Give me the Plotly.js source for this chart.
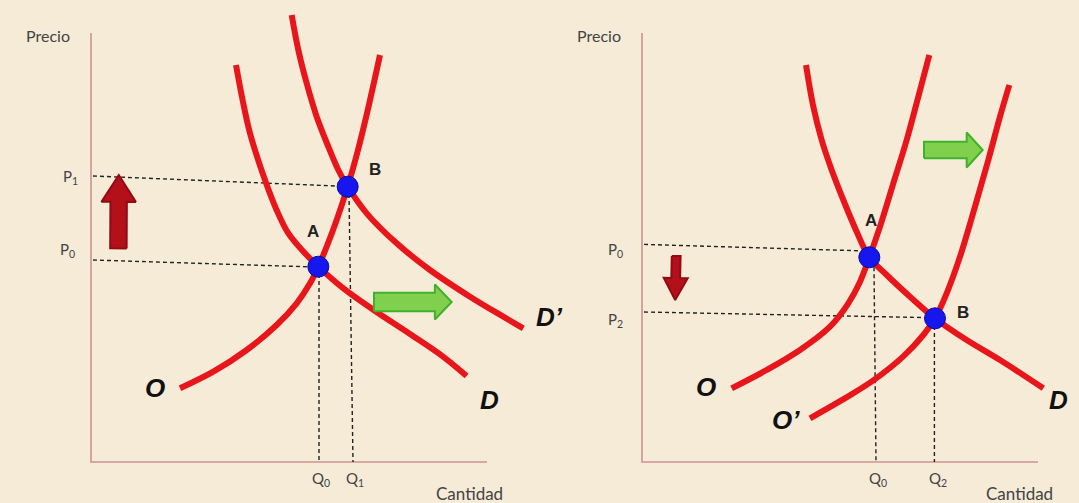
<!DOCTYPE html>
<html>
<head>
<meta charset="utf-8">
<script src="https://cdn.plot.ly/plotly-3.0.1.min.js"></script>
<style>body{margin:0;background:#F5EBD7}</style>
</head>
<body>
<div id="plot" style="width:1079px;height:503px"></div>
<script>
// left panel: demand shifts right (D -> D')
var oLeftQ = [2.225, 3.058, 3.892, 4.642, 5.142, 5.475, 5.683, 5.892, 6.142, 6.417, 6.675, 6.9, 7.088, 7.225];
var oLeftP = [1.843, 2.258, 2.8, 3.425, 3.967, 4.467, 4.883, 5.383, 6.05, 6.883, 7.8, 8.718, 9.55, 10.175];
var dLeftQ = [3.625, 3.79, 3.975, 4.35, 4.64, 4.93, 5.31, 5.683, 6.31, 7.14, 7.975, 8.81, 9.39];
var dLeftP = [9.925, 9.05, 8.22, 7.05, 6.3, 5.72, 5.26, 4.883, 4.34, 3.75, 3.2, 2.63, 2.15];
var d2LeftQ = [5.017, 5.183, 5.392, 5.642, 5.933, 6.183, 6.417, 6.892, 7.642, 8.475, 9.475, 10.308, 10.808];
var d2LeftP = [11.175, 10.3, 9.467, 8.633, 7.883, 7.3, 6.883, 6.217, 5.467, 4.8, 4.133, 3.633, 3.342];
var eqLeftQ = [5.683, 6.417];   // A, B
var eqLeftP = [4.883, 6.883];

// right panel: supply shifts right (O -> O')
var oRightQ = [2.242, 3.117, 3.95, 4.7, 5.158, 5.433, 5.683, 5.95, 6.283, 6.617, 6.908, 7.183];
var oRightP = [1.842, 2.3, 2.8, 3.383, 3.967, 4.467, 5.117, 5.883, 6.967, 8.05, 9.133, 10.175];
var o2RightQ = [4.2, 4.95, 5.783, 6.533, 7.033, 7.325, 7.617, 7.95, 8.325, 8.658, 8.95, 9.183];
var o2RightP = [1.092, 1.52, 2.04, 2.64, 3.175, 3.592, 4.217, 5.133, 6.383, 7.55, 8.633, 9.425];
var dRightQ = [4.1, 4.283, 4.492, 4.742, 5.033, 5.367, 5.683, 6.117, 6.7, 7.325, 8.117, 8.95, 10.033];
var dRightP = [9.925, 8.883, 8.05, 7.3, 6.55, 5.758, 5.117, 4.675, 4.133, 3.592, 3.05, 2.55, 1.842];
var eqRightQ = [5.683, 7.325];  // A, B
var eqRightP = [5.117, 3.592];

// guide lines (price level at the axis, then at the point)
var guideLeft = [
  {q: [0.05, 6.14], p: [7.15, 6.9]},
  {q: [0.05, 5.43], p: [5.05, 4.88]},
  {q: [5.7, 5.7], p: [4.7, 0]},
  {q: [6.45, 6.55], p: [6.7, 0]}
];
var guideRight = [
  {q: [0.05, 5.45], p: [5.44, 5.28]},
  {q: [0.05, 7.1], p: [3.75, 3.61]},
  {q: [5.8, 5.85], p: [4.87, 0]},
  {q: [7.31, 7.31], p: [3.4, 0]}
];

var axisQ = [0, 0, 9.9];
var axisP = [10.725, 0, 0];

var red = '#E8161B';
var traces = [];

function addLine(q, p, xa, ya, style) {
  traces.push({x: q, y: p, xaxis: xa, yaxis: ya, mode: 'lines', type: 'scatter',
    line: style, hoverinfo: 'skip', showlegend: false});
}

function blockArrow(tail, tip, shaftW, headW, headL) {
  var dx = tip[0] - tail[0], dy = tip[1] - tail[1];
  var len = Math.sqrt(dx * dx + dy * dy);
  var ux = dx / len, uy = dy / len, nx = -uy, ny = ux;
  var bx = tip[0] - ux * headL, by = tip[1] - uy * headL;
  var pts = [
    [tail[0], tail[1], -shaftW / 2], [bx, by, -shaftW / 2], [bx, by, -headW / 2],
    [tip[0], tip[1], 0], [bx, by, headW / 2], [bx, by, shaftW / 2], [tail[0], tail[1], shaftW / 2]
  ];
  var xs = pts.map(function (a) { return a[0] + nx * a[2]; });
  var ys = pts.map(function (a) { return a[1] + ny * a[2]; });
  xs.push(xs[0]); ys.push(ys[0]);
  return {x: xs, y: ys};
}

function addArrow(a, xa, ya, fill, edge) {
  traces.push({x: a.x, y: a.y, xaxis: xa, yaxis: ya, mode: 'lines', fill: 'toself',
    fillcolor: fill, line: {color: edge, width: 2}, hoverinfo: 'skip', showlegend: false});
}

function addDots(q, p, xa, ya) {
  traces.push({x: q, y: p, xaxis: xa, yaxis: ya, mode: 'markers', type: 'scatter',
    marker: {size: 21, color: '#1616EE', line: {color: '#0B0B99', width: 1}},
    hoverinfo: 'skip', showlegend: false});
}

var axisStyle = {color: '#D09292', width: 1.6};
var dashStyle = {color: '#222222', width: 1.4, dash: '4px,3px'};
var curveStyle = {color: red, width: 6, shape: 'spline', smoothing: 1};

// left
addLine(axisQ, axisP, 'x', 'y', axisStyle);
guideLeft.forEach(function (g) { addLine(g.q, g.p, 'x', 'y', dashStyle); });
addLine(oLeftQ, oLeftP, 'x', 'y', curveStyle);
addLine(dLeftQ, dLeftP, 'x', 'y', curveStyle);
addLine(d2LeftQ, d2LeftP, 'x', 'y', curveStyle);
addArrow(blockArrow([0.685, 5.34], [0.695, 7.175], 0.41, 0.86, 0.67), 'x', 'y', '#B3101A', '#920B12');
addArrow(blockArrow([7.075, 4.0], [9.017, 4.0], 0.46, 0.875, 0.42), 'x', 'y', '#80CF4D', '#3FB22C');
addDots(eqLeftQ, eqLeftP, 'x', 'y');

// right
addLine(axisQ, axisP, 'x2', 'y2', axisStyle);
guideRight.forEach(function (g) { addLine(g.q, g.p, 'x2', 'y2', dashStyle); });
addLine(oRightQ, oRightP, 'x2', 'y2', curveStyle);
addLine(o2RightQ, o2RightP, 'x2', 'y2', curveStyle);
addLine(dRightQ, dRightP, 'x2', 'y2', curveStyle);
addArrow(blockArrow([0.855, 5.15], [0.83, 4.05], 0.22, 0.6, 0.55), 'x2', 'y2', '#B3101A', '#920B12');
addArrow(blockArrow([7.05, 7.8], [8.517, 7.8], 0.415, 0.875, 0.4), 'x2', 'y2', '#80CF4D', '#3FB22C');
addDots(eqRightQ, eqRightP, 'x2', 'y2');

var fam = 'Lato, "Open Sans", sans-serif';
var axLab = {family: fam, size: 16, color: '#444444'};
var axLabWide = {family: fam, size: 17, color: '#444444'};
var small = {family: fam, size: 15, color: '#444444'};
var point = {family: '"Liberation Sans", Arial, sans-serif', size: 17, color: '#222222', weight: 'bold'};
var curveLab = {family: '"Liberation Sans", Arial, sans-serif', size: 26, color: '#111111', weight: 'bold', style: 'italic'};

function lab(text, x, y, xr, yr, font) {
  return {text: text, x: x, y: y, xref: xr, yref: yr, showarrow: false,
    xanchor: 'center', yanchor: 'middle', font: font};
}

var annotations = [
  lab('Precio', -1.075, 10.675, 'x', 'y', axLab),
  lab('Cantidad', 9.45, -0.775, 'x', 'y', axLabWide),
  lab('P<sub>1</sub>', -0.525, 7.125, 'x', 'y', small),
  lab('P<sub>0</sub>', -0.6, 5.3, 'x', 'y', small),
  lab('Q<sub>0</sub>', 5.75, -0.425, 'x', 'y', small),
  lab('Q<sub>1</sub>', 6.6, -0.425, 'x', 'y', small),
  lab('A', 5.55, 5.775, 'x', 'y', point),
  lab('B', 7.1, 7.325, 'x', 'y', point),
  lab('O', 1.6, 1.85, 'x', 'y', curveLab),
  lab('D', 9.95, 1.55, 'x', 'y', curveLab),
  lab('D’', 549 / 1079, 1 - 317 / 503, 'paper', 'paper', curveLab),

  lab('Precio', -1.075, 10.675, 'x2', 'y2', axLab),
  lab('Cantidad', 9.425, -0.775, 'x2', 'y2', axLabWide),
  lab('P<sub>0</sub>', -0.675, 5.3, 'x2', 'y2', small),
  lab('P<sub>2</sub>', -0.675, 3.55, 'x2', 'y2', small),
  lab('Q<sub>0</sub>', 5.9, -0.425, 'x2', 'y2', small),
  lab('Q<sub>2</sub>', 7.4, -0.425, 'x2', 'y2', small),
  lab('A', 5.725, 6.05, 'x2', 'y2', point),
  lab('B', 8.025, 3.75, 'x2', 'y2', point),
  lab('O', 1.6, 1.875, 'x2', 'y2', curveLab),
  lab('O’', 3.6, 1.05, 'x2', 'y2', curveLab),
  lab('D', 10.4, 1.55, 'x2', 'y2', curveLab)
];

var hidden = {visible: false, fixedrange: true};
var layout = {
  width: 1079, height: 503,
  margin: {l: 0, r: 0, t: 0, b: 0},
  paper_bgcolor: '#F5EBD7', plot_bgcolor: 'rgba(0,0,0,0)',
  showlegend: false,
  xaxis: Object.assign({domain: [0, 540 / 1079], range: [-2.275, 11.225]}, hidden),
  yaxis: Object.assign({domain: [0, 1], range: [-1.025, 11.55]}, hidden),
  xaxis2: Object.assign({domain: [540 / 1079, 1], range: [-2.55, 10.925], anchor: 'y2'}, hidden),
  yaxis2: Object.assign({domain: [0, 1], range: [-1.025, 11.55], anchor: 'x2'}, hidden),
  annotations: annotations
};

Plotly.newPlot('plot', traces, layout, {staticPlot: true, displayModeBar: false});
</script>
</body>
</html>
